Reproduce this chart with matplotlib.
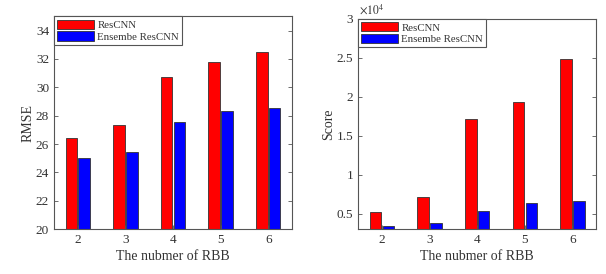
import matplotlib
matplotlib.use("Agg")
import matplotlib.pyplot as plt
import numpy as np
from matplotlib.ticker import FuncFormatter

plt.rcParams['font.family'] = ['Liberation Serif', 'DejaVu Serif']

rbb = [2, 3, 4, 5, 6]
rmse_rescnn = [26.4, 27.35, 30.7, 31.8, 32.5]
rmse_ensemble = [25.0, 25.45, 27.55, 28.3, 28.55]
score_rescnn = [5200, 7200, 17100, 19300, 24800]
score_ensemble = [3400, 3800, 5400, 6400, 6700]
series_names = ['ResCNN', 'Ensembe ResCNN']
colors = ['#ff0000', '#0000ff']

txt = '#333333'
axc = '#555555'

fig = plt.figure(figsize=(6.06, 2.74), dpi=100)
ax1 = fig.add_axes([0.089, 0.164, 0.393, 0.776])
ax2 = fig.add_axes([0.591, 0.163, 0.393, 0.768])

x = np.array(rbb, dtype=float)
w = 0.24
off = 0.135

def style(ax):
    for s in ax.spines.values():
        s.set_color(axc)
        s.set_linewidth(0.8)
    ax.tick_params(direction='in', top=True, right=True, length=3, width=0.6,
                   colors=axc, labelcolor=txt, labelsize=9.5)
    ax.tick_params(axis='x', top=False)
    ax.set_xlim(1.5, 6.5)
    ax.set_xticks(rbb)
    ax.set_xlabel('The nubmer of RBB', fontsize=10, color=txt, labelpad=3)

for ax, a, b, yl in [(ax1, rmse_rescnn, rmse_ensemble, 'RMSE'),
                     (ax2, score_rescnn, score_ensemble, 'Score')]:
    ax.bar(x - off, a, width=w, color=colors[0], edgecolor='#333333', linewidth=0.6, label=series_names[0])
    ax.bar(x + off, b, width=w, color=colors[1], edgecolor='#333333', linewidth=0.6, label=series_names[1])
    style(ax)
    ax.set_ylabel(yl, fontsize=10, color=txt, labelpad=1)
    leg = ax.legend(loc='upper left', borderaxespad=0, fontsize=7.8, handlelength=3.4,
                    handleheight=0.95, handletextpad=0.3, borderpad=0.3, labelspacing=0.1,
                    fancybox=False, framealpha=1, edgecolor=axc)
    leg.get_frame().set_linewidth(0.8)
    for t in leg.get_texts():
        t.set_color(txt)

ax1.set_ylim(20, 35)
ax1.set_yticks([20, 22, 24, 26, 28, 30, 32, 34])

ax2.set_ylim(3000, 30000)
ax2.set_yticks([5000, 10000, 15000, 20000, 25000, 30000])
ax2.yaxis.set_major_formatter(FuncFormatter(lambda v, p: f'{v/1e4:g}'))
ax2.text(0.005, 1.01, r'$\times10^4$', transform=ax2.transAxes, fontsize=8.5,
         color=txt, ha='left', va='bottom', math_fontfamily='stix')

fig.savefig('out.png', dpi=100)
